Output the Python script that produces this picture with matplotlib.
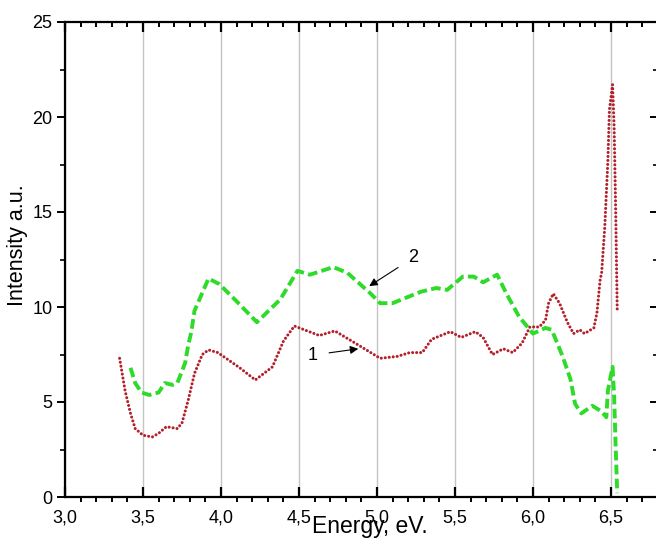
import matplotlib.pyplot as plt
from matplotlib.ticker import MultipleLocator, FuncFormatter

plt.rcParams['font.family'] = ['Liberation Sans', 'DejaVu Sans']

# curve 1 (red, dotted)
energy1 = [3.35, 3.385, 3.42, 3.45, 3.50, 3.56, 3.60, 3.65, 3.72, 3.75, 3.79, 3.83,
           3.88, 3.92, 3.98, 4.05, 4.12, 4.22, 4.33, 4.40, 4.47, 4.55, 4.63, 4.73,
           4.85, 4.96, 5.02, 5.13, 5.21, 5.29, 5.35, 5.47, 5.54, 5.63, 5.68, 5.74,
           5.81, 5.87, 5.93, 5.98, 6.04, 6.08, 6.10, 6.13, 6.17, 6.22, 6.26, 6.30,
           6.33, 6.39, 6.41, 6.43, 6.44, 6.46, 6.48, 6.49, 6.51, 6.52, 6.53, 6.54]
inten1 = [7.3, 5.6, 4.4, 3.6, 3.25, 3.16, 3.35, 3.7, 3.6, 3.9, 5.1, 6.5,
          7.5, 7.74, 7.6, 7.2, 6.8, 6.16, 6.85, 8.2, 9.0, 8.75, 8.5, 8.74,
          8.15, 7.6, 7.3, 7.4, 7.6, 7.6, 8.3, 8.7, 8.4, 8.7, 8.4, 7.5,
          7.8, 7.6, 8.1, 8.95, 8.95, 9.3, 10.2, 10.7, 10.2, 9.2, 8.6, 8.8,
          8.6, 8.9, 9.7, 11.4, 11.8, 14.2, 17.7, 20.4, 21.7, 19.5, 15.1, 9.8]

# curve 2 (green, dashed)
energy2 = [3.42, 3.45, 3.49, 3.54, 3.60, 3.64, 3.69, 3.72, 3.77, 3.79, 3.81, 3.83,
           3.92, 3.99, 4.10, 4.23, 4.38, 4.49, 4.57, 4.72, 4.81, 4.96, 5.02, 5.10,
           5.28, 5.38, 5.45, 5.55, 5.62, 5.68, 5.77, 5.83, 5.91, 6.00, 6.08, 6.12,
           6.15, 6.19, 6.24, 6.27, 6.31, 6.38, 6.44, 6.47, 6.48, 6.51, 6.52, 6.53, 6.54]
inten2 = [6.8, 6.0, 5.5, 5.37, 5.5, 6.0, 5.9, 6.0, 7.05, 8.0, 8.7, 9.8,
          11.5, 11.2, 10.3, 9.2, 10.4, 11.9, 11.7, 12.1, 11.8, 10.7, 10.2, 10.2,
          10.8, 11.0, 10.9, 11.6, 11.6, 11.3, 11.7, 10.7, 9.5, 8.6, 8.9, 8.8,
          8.2, 7.4, 6.2, 4.9, 4.4, 4.8, 4.5, 4.2, 5.6, 6.85, 5.3, 2.6, 0.2]

fig = plt.figure(figsize=(6.56, 5.43), dpi=100)
ax = fig.add_axes([65 / 656, 46 / 543, 592.8 / 656, 475 / 543])

ax.plot(energy1, inten1, color='#b3202a', lw=2.2, linestyle=(0, (0.01, 1.3)),
        dash_capstyle='round')
ax.plot(energy2, inten2, color='#2edb2a', lw=2.8, linestyle=(0, (2.5, 1.1)))

ax.set_xlim(3.0, 6.8)
ax.set_ylim(0, 25)
ax.xaxis.set_major_locator(MultipleLocator(0.5))
ax.xaxis.set_minor_locator(MultipleLocator(0.1))
ax.yaxis.set_major_locator(MultipleLocator(5))
ax.yaxis.set_minor_locator(MultipleLocator(2.5))
ax.xaxis.set_major_formatter(FuncFormatter(lambda v, p: f'{v:.1f}'.replace('.', ',')))

ax.grid(axis='x', which='major', color='#c4c4c4', lw=1)
ax.set_axisbelow(True)

for s in ax.spines.values():
    s.set_linewidth(1.6)

ax.tick_params(axis='x', which='major', direction='in', length=7, width=1.6,
               top=True, labelsize=13, pad=9)
ax.tick_params(axis='x', which='minor', direction='out', length=3.5, width=1.4, top=True)
ax.tick_params(axis='y', which='major', direction='out', length=6, width=1.4,
               right=True, labelsize=13, pad=3)
ax.tick_params(axis='y', which='minor', direction='out', length=3.5, width=1.2, right=True)

# top minor ticks point in, right ticks point in
for t in ax.xaxis.get_minor_ticks():
    t.tick2line.set_marker(3)
for t in ax.yaxis.get_major_ticks() + ax.yaxis.get_minor_ticks():
    t.tick2line.set_marker(0)

ax.set_xlabel('Energy, eV.', fontsize=16.5)
ax.xaxis.set_label_coords(0.515, -0.038)
ax.set_ylabel('Intensity a.u.', fontsize=15.5)
ax.yaxis.set_label_coords(-0.062, 0.53)

ax.annotate('1', xy=(4.88, 7.8), xytext=(4.59, 7.47), fontsize=13,
            ha='center', va='center',
            arrowprops=dict(arrowstyle='-|>', color='black', lw=0.8, mutation_scale=12,
                            shrinkA=6, shrinkB=0))
ax.annotate('2', xy=(4.95, 11.1), xytext=(5.23, 12.58), fontsize=13,
            ha='center', va='center',
            arrowprops=dict(arrowstyle='-|>', color='black', lw=0.8, mutation_scale=12,
                            shrinkA=6, shrinkB=0))

fig.savefig('out.png', dpi=100)
